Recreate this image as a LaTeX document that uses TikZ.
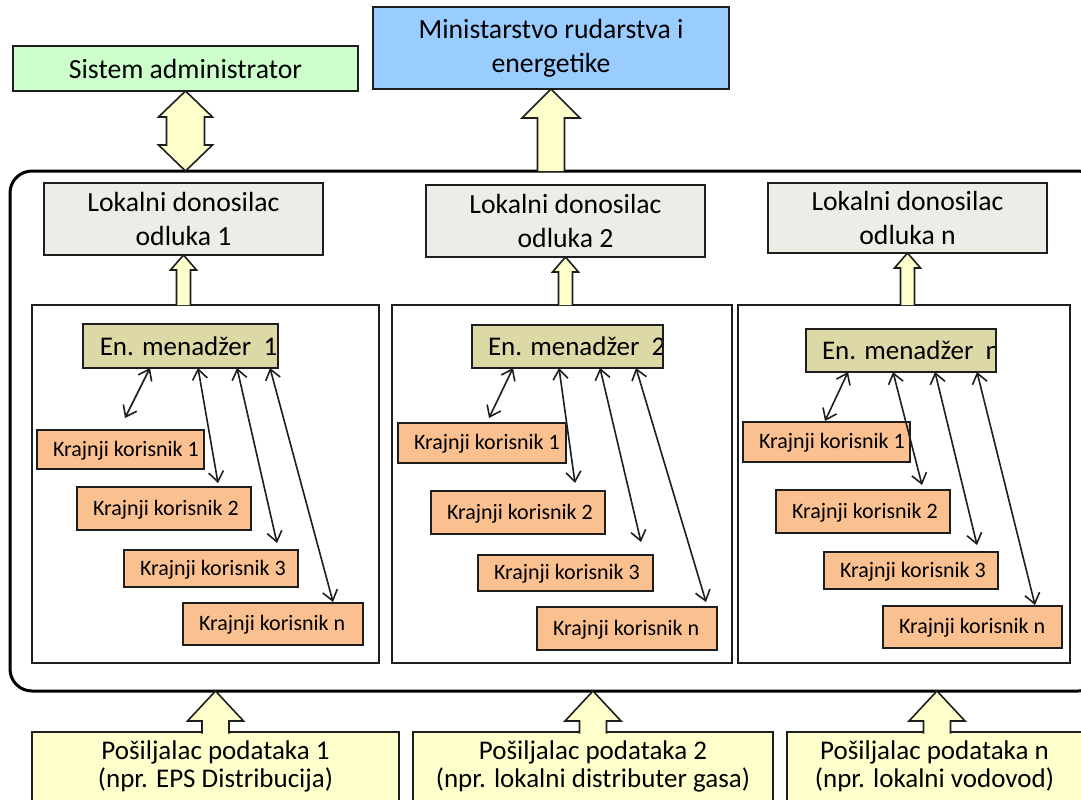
\documentclass[tikz,border=0pt]{standalone}
\usepackage{fontspec}
\setmainfont{Carlito}
\usetikzlibrary{arrows.meta,calc}
\definecolor{sysgreen}{HTML}{CCFFCC}
\definecolor{minblue}{HTML}{99CCFF}
\definecolor{lokgray}{HTML}{EEECE6}
\definecolor{menkhaki}{HTML}{DDD9A6}
\definecolor{korange}{HTML}{FAC090}
\definecolor{blkyellow}{HTML}{FFFFCC}
\definecolor{edge}{HTML}{1E1E1E}
\newcommand{\dgTop}{\fontsize{27.7}{33.8}\selectfont}
\newcommand{\dgMen}{\fontsize{27}{32}\selectfont}
\newcommand{\dgKor}{\fontsize{22}{26}\selectfont}
\newcommand{\dgPos}{\fontsize{27}{28}\selectfont}
\newcommand{\lft}[2]{\makebox[#1pt][l]{\hspace*{16pt}#2}}
% block arrow pointing up: #1 base, #2 tip, #3 shaft half, #4 head half, #5 head length
\newcommand{\blkup}[5]{%
  \fill[blkyellow] let \p1=(#1), \p2=(#2) in
   (\x2,\y2) -- (\x2+#4pt,\y2-#5pt) -- (\x2+#3pt,\y2-#5pt) -- (\x2+#3pt,\y1)
   -- (\x2-#3pt,\y1) -- (\x2-#3pt,\y2-#5pt) -- (\x2-#4pt,\y2-#5pt) -- cycle;
  \draw[blkline] let \p1=(#1), \p2=(#2) in
   (\x2+#3pt,\y1) -- (\x2+#3pt,\y2-#5pt) -- (\x2+#4pt,\y2-#5pt) -- (\x2,\y2)
   -- (\x2-#4pt,\y2-#5pt) -- (\x2-#3pt,\y2-#5pt) -- (\x2-#3pt,\y1);}
% double block arrow: #1 bottom tip, #2 top tip
\newcommand{\blkdouble}[5]{%
  \filldraw[blkline, fill=blkyellow] let \p1=(#1), \p2=(#2) in
   (\x2,\y2) -- (\x2+#4pt,\y2-#5pt) -- (\x2+#3pt,\y2-#5pt) -- (\x2+#3pt,\y1+#5pt)
   -- (\x2+#4pt,\y1+#5pt) -- (\x2,\y1) -- (\x2-#4pt,\y1+#5pt) -- (\x2-#3pt,\y1+#5pt)
   -- (\x2-#3pt,\y2-#5pt) -- (\x2-#4pt,\y2-#5pt) -- cycle;}
\begin{document}
\begin{tikzpicture}[x=1pt,y=-1pt,
  box/.style={draw=edge, line width=1.7pt, rectangle, inner sep=0pt, outer sep=0pt, text=black},
  sysbox/.style={box, fill=sysgreen, font=\dgTop},
  minbox/.style={box, fill=minblue, font=\dgTop, align=center},
  lokbox/.style={box, fill=lokgray, font=\dgTop, align=center},
  panel/.style={box, fill=white, line width=1.5pt},
  menbox/.style={box, fill=menkhaki},
  korbox/.style={box, fill=korange, font=\dgKor, text height=15pt, text depth=2pt},
  posbox/.style={box, fill=blkyellow},
  poslabel/.style={align=center, font=\dgPos, yshift=6pt},
  blkline/.style={draw=edge, line width=1.6pt, line join=miter},
  conn/.style={{Straight Barb[length=10pt,width=15pt,line width=1.6pt]}-{Straight Barb[length=10pt,width=15pt,line width=1.6pt]}, draw=edge, line width=1.6pt}]
\useasboundingbox (0,0) rectangle (1081,800);
\clip (0,0) rectangle (1081,800);
\fill[white] (0,0) rectangle (1081,800);

% platform
\node[draw=black, line width=3pt, rounded corners=22pt, inner sep=0pt, outer sep=0pt,
      minimum width=1090pt, minimum height=520pt] (plat) at (555,431) {};

% top
\node[sysbox, minimum width=345pt, minimum height=45pt] (sys) at (185.5,68.5) {Sistem administrator};
\node[minbox, minimum width=356pt, minimum height=82pt] (min) at (551,48) {Ministarstvo rudarstva i\\energetike};

% local decision makers
\node[lokbox, minimum width=279pt, minimum height=72pt] (lok1) at (183.5,219) {Lokalni donosilac\\odluka 1};
\node[lokbox, minimum width=279pt, minimum height=72pt] (lok2) at (565.5,221) {Lokalni donosilac\\odluka 2};
\node[lokbox, minimum width=279pt, minimum height=70pt] (lokn) at (907.5,218) {Lokalni donosilac\\odluka n};

% panels
\node[panel, minimum width=347pt, minimum height=358pt] (pan1) at (205.5,484) {};
\node[panel, minimum width=340pt, minimum height=358pt] (pan2) at (562,484) {};
\node[panel, minimum width=332pt, minimum height=358pt] (pann) at (904,484) {};

% energy managers
\node[menbox, minimum width=195pt, minimum height=44pt,
  path picture={\node[anchor=west, inner sep=0pt, font=\dgMen] at (path picture bounding box.west) {\hspace*{16pt}En. menadžer\ \ 1};}]
  (m1) at (180.5,346) {};
\node[menbox, minimum width=191pt, minimum height=43pt,
  path picture={\node[anchor=west, inner sep=0pt, font=\dgMen] at (path picture bounding box.west) {\hspace*{16pt}En. menadžer\ \ 2};}]
  (m2) at (567.5,346.5) {};
\node[menbox, minimum width=190pt, minimum height=43pt,
  path picture={\node[anchor=west, inner sep=0pt, font=\dgMen] at (path picture bounding box.west) {\hspace*{16pt}En. menadžer\ \ n};}]
  (mn) at (901,350.5) {};

% end users column 1
\node[korbox, minimum width=167pt, minimum height=39pt] (k11) at (120.5,449.5) {\lft{167}{Krajnji korisnik 1}};
\node[korbox, minimum width=174pt, minimum height=43pt] (k12) at (164,508.5) {\lft{174}{Krajnji korisnik 2}};
\node[korbox, minimum width=174pt, minimum height=37pt] (k13) at (211,568.5) {\lft{174}{Krajnji korisnik 3}};
\node[korbox, minimum width=180pt, minimum height=42pt] (k1n) at (273,624) {\lft{180}{Krajnji korisnik n}};
% column 2
\node[korbox, minimum width=168pt, minimum height=40pt] (k21) at (482,443) {\lft{168}{Krajnji korisnik 1}};
\node[korbox, minimum width=174pt, minimum height=43pt] (k22) at (518,512.5) {\lft{174}{Krajnji korisnik 2}};
\node[korbox, minimum width=175pt, minimum height=36pt] (k23) at (565.5,573) {\lft{175}{Krajnji korisnik 3}};
\node[korbox, minimum width=180pt, minimum height=43pt] (k2n) at (627,628.5) {\lft{180}{Krajnji korisnik n}};
% column n
\node[korbox, minimum width=167pt, minimum height=40pt] (kn1) at (826.5,442) {\lft{167}{Krajnji korisnik 1}};
\node[korbox, minimum width=174pt, minimum height=43pt] (kn2) at (863,511.5) {\lft{174}{Krajnji korisnik 2}};
\node[korbox, minimum width=174pt, minimum height=37pt] (kn3) at (911,570.5) {\lft{174}{Krajnji korisnik 3}};
\node[korbox, minimum width=179pt, minimum height=42pt] (knn) at (972.5,627) {\lft{179}{Krajnji korisnik n}};

% data senders
\node[posbox, minimum width=367pt, minimum height=80pt,
  label={[poslabel]center:{Pošiljalac podataka 1\\(npr. EPS Distribucija)}}] (p1) at (215.5,772) {};
\node[posbox, minimum width=360pt, minimum height=80pt,
  label={[poslabel]center:{Pošiljalac podataka 2\\(npr. lokalni distributer gasa)}}] (p2) at (593,772) {};
\node[posbox, minimum width=295pt, minimum height=80pt,
  label={[poslabel]center:{Pošiljalac podataka n\\(npr. lokalni vodovod)}}] (pn) at (934.5,772) {};

% block arrows
\blkdouble{sys.south |- plat.north}{sys.south}{19}{27}{26}
\blkup{plat.north}{min.south}{13.5}{29}{29}
\blkup{pan1.north}{lok1.south}{7}{13}{15}
\blkup{pan2.north}{lok2.south}{7}{13}{15}
\blkup{pann.north}{lokn.south}{7}{13}{15}
\blkup{$(p1.north)+(0,1.5)$}{p1.north |- plat.south}{13.5}{28}{30}
\blkup{$(p2.north)+(0,1.5)$}{p2.north |- plat.south}{13.5}{28}{30}
\blkup{$(pn.north)+(2.5,1.5)$}{$(pn.north |- plat.south)+(2.5,0)$}{13.5}{28}{30}

% manager <-> end user connectors
\draw[conn] ($(m1.south west)+(67,0)$) -- ($(k11.north west)+(88,-12)$);
\draw[conn] ($(m1.south west)+(115,0)$) -- ($(k12.north west)+(141,-4)$);
\draw[conn] ($(m1.south west)+(154,0)$) -- ($(k13.north west)+(153,-7)$);
\draw[conn] ($(m1.south west)+(187,0)$) -- ($(k1n.north west)+(150,-1)$);

\draw[conn] ($(m2.south west)+(41,0)$) -- ($(k21.north west)+(91,-5)$);
\draw[conn] ($(m2.south west)+(87,0)$) -- ($(k22.north west)+(144,-8)$);
\draw[conn] ($(m2.south west)+(128,0)$) -- ($(k23.north west)+(163,-13)$);
\draw[conn] ($(m2.south west)+(164,0)$) -- ($(k2n.north west)+(169,-5)$);

\draw[conn] ($(mn.south west)+(42,0)$) -- ($(kn1.north west)+(82,-1)$);
\draw[conn] ($(mn.south west)+(87,0)$) -- ($(kn2.north west)+(146,-5)$);
\draw[conn] ($(mn.south west)+(129,0)$) -- ($(kn3.north west)+(153,-7)$);
\draw[conn] ($(mn.south west)+(171,0)$) -- ($(knn.north west)+(152,-1)$);
\end{tikzpicture}
\end{document}
